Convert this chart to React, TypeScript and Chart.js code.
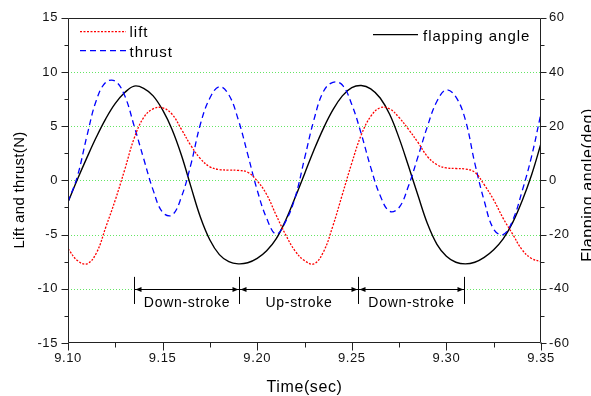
import React, { useEffect, useRef } from "react";
import { Chart, registerables } from "chart.js";

Chart.register(...registerables);

// ---- data ----
const time = [
  9.100, 9.105, 9.110, 9.115, 9.120, 9.125, 9.130, 9.135, 9.140, 9.145,
  9.150, 9.155, 9.160, 9.165, 9.170, 9.175, 9.180, 9.185, 9.190, 9.195,
  9.200, 9.205, 9.210, 9.215, 9.220, 9.225, 9.230, 9.235, 9.240, 9.245,
  9.250, 9.255, 9.260, 9.265, 9.270, 9.275, 9.280, 9.285, 9.290, 9.295,
  9.300, 9.305, 9.310, 9.315, 9.320, 9.325, 9.330, 9.335, 9.340, 9.345,
  9.350,
];

// lift (N), left axis
const lift = [
  -6.3, -7.4, -7.7, -6.7, -4.3, -1.8, 1.0, 3.9, 5.8, 6.6,
  6.7, 6.1, 4.7, 3.2, 2.0, 1.25, 1.0, 0.95, 0.92, 0.75,
  -0.05, -1.3, -3.2, -5.0, -6.5, -7.4, -7.7, -6.6, -4.2, -1.3,
  1.6, 4.2, 5.9, 6.7, 6.6, 5.8, 4.7, 3.5, 2.2, 1.45,
  1.15, 1.1, 1.05, 0.75, -0.4, -1.8, -3.5, -4.95, -6.4, -7.2,
  -7.5,
];

// thrust (N), left axis
const thrust = [
  -2.0, 0.4, 4.1, 7.4, 9.05, 9.15, 7.8, 5.0, 2.0, -0.9,
  -2.95, -3.2, -1.5, 1.5, 5.2, 7.6, 8.65, 7.9, 5.6, 2.4,
  -0.9, -3.5, -4.95, -3.8, -1.6, 2.0, 5.6, 8.2, 9.05, 8.8,
  7.0, 4.3, 1.2, -1.4, -2.85, -2.5, -0.5, 2.2, 5.0, 7.3,
  8.35, 7.7, 5.6, 1.6, -1.9, -4.5, -5.0, -3.7, -1.0, 2.2,
  6.2,
];

// flapping angle (deg), right axis
const flappingAngle = [
  -8.0, 0.4, 8.4, 16.0, 22.8, 28.4, 32.4, 34.8, 34.0, 31.2,
  26.0, 18.8, 9.2, -2.4, -13.6, -22.0, -27.4, -30.0, -30.8, -30.4,
  -28.8, -26.0, -21.6, -14.8, -6.4, 2.4, 11.2, 19.2, 26.0, 31.2,
  34.2, 35.0, 33.8, 30.4, 24.4, 15.6, 5.2, -5.6, -16.0, -23.6,
  -28.0, -30.2, -30.8, -30.2, -28.4, -25.6, -21.6, -15.6, -7.6, 2.0,
  13.6,
];

const xTicks = [9.10, 9.15, 9.20, 9.25, 9.30, 9.35];
const xMinorTicks = [9.125, 9.175, 9.225, 9.275, 9.325];
const yTicks = [-15, -10, -5, 0, 5, 10, 15];
const yMinorTicks = [-12.5, -7.5, -2.5, 2.5, 7.5, 12.5];
const yGridLines = [-10, -5, 0, 5, 10];
const y1Ticks = [-60, -40, -20, 0, 20, 40, 60];
const y1MinorTicks = [-50, -30, -10, 10, 30, 50];

const strokeBounds = [9.1347, 9.1906, 9.2533, 9.3095];
const strokeLabels = ["Down-stroke", "Up-stroke", "Down-stroke"];

const FONT = '"Liberation Sans", Arial, Helvetica, sans-serif';
const AXIS = "#222";

const decor = {
  id: "decor",
  beforeDraw(chart: any) {
    chart.ctx.letterSpacing = "0.6px";
  },
  beforeDatasetsDraw(chart: any) {
    const { ctx, chartArea, scales } = chart;
    const { left, right } = chartArea;
    const y = scales.y;
    ctx.save();
    ctx.strokeStyle = "rgb(100,230,100)";
    ctx.lineWidth = 1;
    ctx.setLineDash([1, 2]);
    for (const v of yGridLines) {
      const py = Math.round(y.getPixelForValue(v)) + 0.5;
      ctx.beginPath();
      ctx.moveTo(left, py);
      ctx.lineTo(right, py);
      ctx.stroke();
    }
    ctx.restore();
  },
  afterDatasetsDraw(chart: any) {
    const { ctx, chartArea, scales } = chart;
    const { left, right, top, bottom } = chartArea;
    const x = scales.x;
    const y = scales.y;
    const y1 = scales.y1;
    ctx.save();
    ctx.setLineDash([]);
    ctx.strokeStyle = AXIS;
    ctx.lineWidth = 1;
    // frame
    const L = Math.round(left) + 0.5;
    const R = Math.round(right) - 0.5;
    const T = Math.round(top) + 0.5;
    const B = Math.round(bottom) - 0.5;
    ctx.beginPath();
    ctx.moveTo(L, T);
    ctx.lineTo(R, T);
    ctx.lineTo(R, B);
    ctx.lineTo(L, B);
    ctx.closePath();
    ctx.stroke();
    // ticks
    ctx.beginPath();
    for (const v of xTicks) {
      const px = Math.round(x.getPixelForValue(v)) + 0.5;
      ctx.moveTo(px, B);
      ctx.lineTo(px, B + 8);
    }
    for (const v of xMinorTicks) {
      const px = Math.round(x.getPixelForValue(v)) + 0.5;
      ctx.moveTo(px, B);
      ctx.lineTo(px, B + 5);
    }
    for (const v of yTicks) {
      const py = Math.round(y.getPixelForValue(v)) + 0.5;
      ctx.moveTo(L, py);
      ctx.lineTo(L - 7, py);
    }
    for (const v of yMinorTicks) {
      const py = Math.round(y.getPixelForValue(v)) + 0.5;
      ctx.moveTo(L, py);
      ctx.lineTo(L - 4, py);
    }
    for (const v of y1Ticks) {
      const py = Math.round(y1.getPixelForValue(v)) + 0.5;
      ctx.moveTo(R, py);
      ctx.lineTo(R + 6, py);
    }
    for (const v of y1MinorTicks) {
      const py = Math.round(y1.getPixelForValue(v)) + 0.5;
      ctx.moveTo(R, py);
      ctx.lineTo(R + 4, py);
    }
    ctx.stroke();

    // stroke annotation
    ctx.strokeStyle = "#000";
    ctx.fillStyle = "#000";
    const yLine = Math.round(y.getPixelForValue(-10)) + 0.5;
    const yTop = y.getPixelForValue(-8.9);
    const yBot = y.getPixelForValue(-11.4);
    const xs = strokeBounds.map((t) => Math.round(x.getPixelForValue(t)) + 0.5);
    ctx.beginPath();
    ctx.moveTo(xs[0], yLine);
    ctx.lineTo(xs[xs.length - 1], yLine);
    for (const xb of xs) {
      ctx.moveTo(xb, yTop);
      ctx.lineTo(xb, yBot);
    }
    ctx.stroke();
    for (let i = 0; i < xs.length - 1; i++) {
      const a = xs[i] + 1;
      const b = xs[i + 1] - 1;
      ctx.beginPath();
      ctx.moveTo(a, yLine);
      ctx.lineTo(a + 6, yLine - 2.5);
      ctx.lineTo(a + 6, yLine + 2.5);
      ctx.closePath();
      ctx.fill();
      ctx.beginPath();
      ctx.moveTo(b, yLine);
      ctx.lineTo(b - 6, yLine - 2.5);
      ctx.lineTo(b - 6, yLine + 2.5);
      ctx.closePath();
      ctx.fill();
    }
    ctx.font = `14px ${FONT}`;
    ctx.letterSpacing = "0.7px";
    ctx.textAlign = "center";
    ctx.textBaseline = "alphabetic";
    const labelY = y.getPixelForValue(-11.64);
    for (let i = 0; i < strokeLabels.length; i++) {
      ctx.fillText(strokeLabels[i], (xs[i] + xs[i + 1]) / 2, labelY);
    }

    // legend
    ctx.font = `15px ${FONT}`;
    ctx.letterSpacing = "1px";
    ctx.textAlign = "left";
    ctx.lineWidth = 1.3;
    const legend = [
      { text: "lift", color: "#ff0000", dash: [2, 1.5], x0: 80, x1: 126, ly: 31.7, tx: 129.5, by: 36.7 },
      { text: "thrust", color: "#0000ff", dash: [6, 4], x0: 80, x1: 126, ly: 50.7, tx: 129.5, by: 56.7 },
      { text: "flapping angle", color: "#000000", dash: [], x0: 373, x1: 418, ly: 34.7, tx: 423, by: 40.7 },
    ];
    for (const it of legend) {
      ctx.strokeStyle = it.color;
      ctx.setLineDash(it.dash);
      ctx.beginPath();
      ctx.moveTo(it.x0, it.ly);
      ctx.lineTo(it.x1, it.ly);
      ctx.stroke();
      ctx.fillStyle = "#000";
      ctx.fillText(it.text, it.tx, it.by);
    }
    ctx.setLineDash([]);

    // axis titles
    ctx.fillStyle = "#000";
    ctx.textAlign = "center";
    ctx.textBaseline = "alphabetic";
    ctx.font = `16px ${FONT}`;
    ctx.letterSpacing = "0.6px";
    ctx.fillText("Time(sec)", (left + right) / 2, 391.5);

    ctx.save();
    ctx.font = `15px ${FONT}`;
    ctx.letterSpacing = "0.3px";
    ctx.translate(23.5, 190);
    ctx.rotate(-Math.PI / 2);
    ctx.fillText("Lift and thrust(N)", 0, 0);
    ctx.restore();

    ctx.save();
    ctx.font = `16px ${FONT}`;
    ctx.letterSpacing = "0.6px";
    ctx.translate(592.5, 185);
    ctx.rotate(-Math.PI / 2);
    ctx.fillText("Flapping angle(deg)", 0, 0);
    ctx.restore();

    ctx.restore();
  },
};

export default function App() {
  const ref = useRef<HTMLCanvasElement | null>(null);

  useEffect(() => {
    if (!ref.current) return;
    const toPts = (vals: number[]) => time.map((t, i) => ({ x: t, y: vals[i] }));
    const tickFont = { family: FONT, size: 13 };
    const chart = new Chart(ref.current, {
      type: "line",
      data: {
        datasets: [
          {
            label: "lift",
            data: toPts(lift),
            yAxisID: "y",
            borderColor: "#ff0000",
            borderWidth: 1.3,
            borderDash: [2, 1.5],
            pointRadius: 0,
            tension: 0.4,
            fill: false,
          },
          {
            label: "thrust",
            data: toPts(thrust),
            yAxisID: "y",
            borderColor: "#0000ff",
            borderWidth: 1.3,
            borderDash: [6, 4],
            pointRadius: 0,
            tension: 0.4,
            fill: false,
          },
          {
            label: "flapping angle",
            data: toPts(flappingAngle),
            yAxisID: "y1",
            borderColor: "#000000",
            borderWidth: 1.4,
            pointRadius: 0,
            tension: 0.4,
            fill: false,
          },
        ],
      },
      options: {
        responsive: false,
        maintainAspectRatio: false,
        animation: false,
        layout: { padding: { top: 17, left: 0, right: 0, bottom: 0 } },
        plugins: { legend: { display: false }, tooltip: { enabled: false } },
        scales: {
          x: {
            type: "linear",
            min: 9.1,
            max: 9.35,
            afterBuildTicks: (s: any) => {
              s.ticks = xTicks.map((v) => ({ value: v }));
            },
            afterFit: (s: any) => {
              s.height = 53;
            },
            grid: { display: false, drawTicks: false },
            border: { display: false },
            ticks: {
              autoSkip: false,
              maxRotation: 0,
              padding: 8,
              color: "#111",
              font: tickFont,
              callback: (v: any) => Number(v).toFixed(2),
            },
          },
          y: {
            type: "linear",
            position: "left",
            min: -15,
            max: 15,
            afterBuildTicks: (s: any) => {
              s.ticks = yTicks.map((v) => ({ value: v }));
            },
            afterFit: (s: any) => {
              s.width = 68;
            },
            grid: { display: false, drawTicks: false },
            border: { display: false },
            ticks: {
              padding: 10,
              color: "#111",
              font: tickFont,
              callback: (v: any) => String(v),
            },
          },
          y1: {
            type: "linear",
            position: "right",
            min: -60,
            max: 60,
            afterBuildTicks: (s: any) => {
              s.ticks = y1Ticks.map((v) => ({ value: v }));
            },
            afterFit: (s: any) => {
              s.width = 50;
            },
            grid: { display: false, drawTicks: false },
            border: { display: false },
            ticks: {
              padding: 8,
              color: "#111",
              font: tickFont,
              callback: (v: any) => String(v),
            },
          },
        },
      },
      plugins: [decor],
    } as any);
    return () => chart.destroy();
  }, []);

  return (
    <div style={{ position: "absolute", left: 0, top: 0, width: 591, height: 396, background: "#fff" }}>
      <canvas ref={ref} width={591} height={396} style={{ display: "block" }} />
    </div>
  );
}
